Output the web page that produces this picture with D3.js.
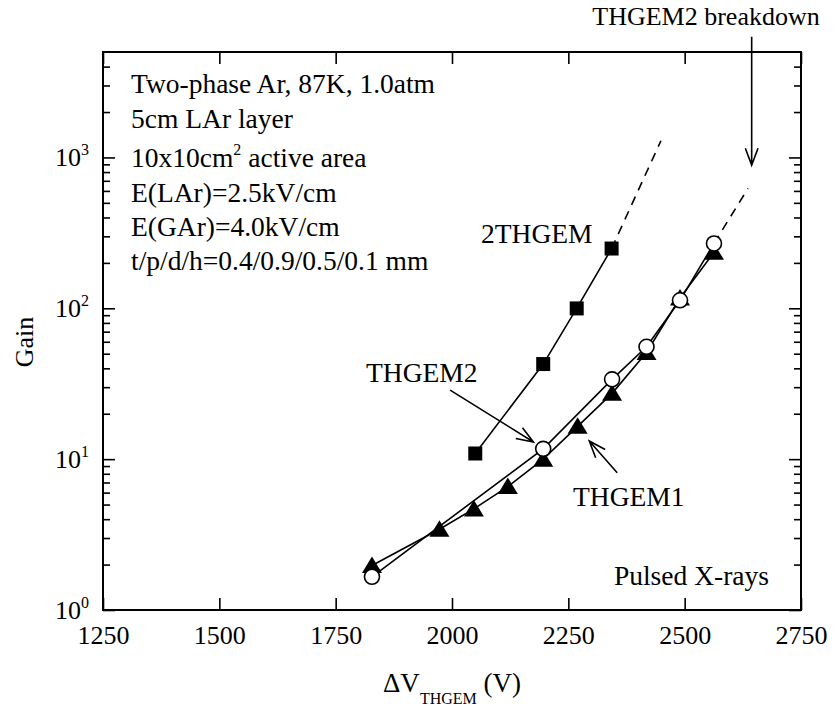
<!DOCTYPE html>
<html>
<head>
<meta charset="utf-8">
<script src="https://cdn.jsdelivr.net/npm/d3@7"></script>
<style>
  body { margin: 0; background: white; }
  svg { font-family: 'Liberation Serif', 'Times New Roman', serif; }
</style>
</head>
<body>
<svg id="chart" width="835" height="708"></svg>
<script>
// Valores
const xTicks = [1250, 1500, 1750, 2000, 2250, 2500, 2750]
const yMajor = [1, 10, 100, 1000]
const yMinor = [2, 3, 4, 5, 6, 7, 8, 9, 20, 30, 40, 50, 60, 70, 80, 90,
                200, 300, 400, 500, 600, 700, 800, 900, 2000, 3000, 4000]

const v2thgem = [2050, 2196, 2268, 2343]
const gain2thgem = [10.9, 42.7, 99.8, 249]

const vThgem2 = [1828, 2196, 2344, 2418, 2490, 2563]
const gainThgem2 = [1.66, 11.7, 33.8, 55.6, 113, 269]

const vThgem1 = [1828, 1973, 2047, 2120, 2196, 2270, 2344, 2418, 2490, 2563]
const gainThgem1 = [1.97, 3.43, 4.68, 6.58, 10.0, 16.5, 27.3, 51, 117, 235]

// extrapolaciones a trazos
const dash2thgem = [[2343, 249], [2449, 1290]]
const dashThgem2 = [[2563, 269], [2636, 623]]

const infoLines = [
  'Two-phase Ar, 87K, 1.0atm',
  '5cm LAr layer',
  '10x10cm^2 active area',
  'E(LAr)=2.5kV/cm',
  'E(GAr)=4.0kV/cm',
  't/p/d/h=0.4/0.9/0.5/0.1 mm'
]
const infoY = [93, 128, 167, 202, 236, 270] // lineas base del recuadro de texto

const svg = d3.select('#chart')
const width = +svg.attr('width')
const height = +svg.attr('height')
const margin = { top: 52, right: 34, bottom: 98, left: 103 }
const innerWidth = width - margin.left - margin.right
const innerHeight = height - margin.top - margin.bottom

const x = d3.scaleLinear().domain([1250, 2750]).range([0, innerWidth])
const y = d3.scaleLog().domain([1, 5000]).range([innerHeight, 0])

const g = svg.append('g')
  .attr('transform', `translate(${margin.left}, ${margin.top})`)

// Ejes (ticks hacia adentro)
const styleAxis = sel => {
  sel.attr('font-size', 26).attr('font-family', 'Liberation Serif')
  sel.select('.domain').remove()
  sel.selectAll('.tick line').attr('stroke', '#000').attr('stroke-width', 1.6)
}

g.append('g')
  .attr('transform', `translate(0, ${innerHeight})`)
  .call(d3.axisBottom(x).tickValues(xTicks).tickSize(-12).tickPadding(16).tickFormat(d3.format('d')))
  .call(styleAxis)
  .selectAll('text')
    .attr('fill', '#000')

g.append('g')
  .call(d3.axisTop(x).tickValues(xTicks).tickSize(-12).tickFormat(''))
  .call(styleAxis)

const yLeft = g.append('g')
  .call(d3.axisLeft(y).tickValues(yMajor).tickSize(-12).tickPadding(14).tickFormat(''))
  .call(styleAxis)

yLeft.selectAll('.tick text').each(function (d) {
  const t = d3.select(this)
    .attr('fill', '#000')
    .attr('dy', '0.32em')
  t.append('tspan').text('10')
  t.append('tspan').attr('font-size', 16).attr('dy', -11).text(Math.round(Math.log10(d)))
})

g.append('g')
  .call(d3.axisLeft(y).tickValues(yMinor).tickSize(-7).tickFormat(''))
  .call(styleAxis)

g.append('g')
  .attr('transform', `translate(${innerWidth}, 0)`)
  .call(d3.axisRight(y).tickValues(yMajor).tickSize(-12).tickFormat(''))
  .call(styleAxis)

g.append('g')
  .attr('transform', `translate(${innerWidth}, 0)`)
  .call(d3.axisRight(y).tickValues(yMinor).tickSize(-7).tickFormat(''))
  .call(styleAxis)

// Marco
g.append('rect')
  .attr('width', innerWidth)
  .attr('height', innerHeight)
  .attr('fill', 'none')
  .attr('stroke', '#000')
  .attr('stroke-width', 2)

// Titulos de ejes
svg.append('text')
  .attr('transform', `translate(33, 342) rotate(-90)`)
  .attr('text-anchor', 'middle')
  .attr('font-size', 26)
  .text('Gain')

const xTitle = svg.append('text')
  .attr('x', margin.left + innerWidth / 2)
  .attr('y', 692)
  .attr('text-anchor', 'middle')
  .attr('font-size', 27)
xTitle.append('tspan').text('\u0394V')
xTitle.append('tspan').attr('font-size', 16).attr('dy', 12).text('THGEM')
xTitle.append('tspan').attr('dy', -12).text(' (V)')

// Curvas
const line = d3.line().x(d => x(d[0])).y(d => y(d[1]))
const zip = (a, b) => a.map((v, i) => [v, b[i]])

const d2thgem = zip(v2thgem, gain2thgem)
const dThgem2 = zip(vThgem2, gainThgem2)
const dThgem1 = zip(vThgem1, gainThgem1)

const curves = g.append('g').attr('fill', 'none').attr('stroke', '#000').attr('stroke-width', 1.6)
curves.append('path').attr('d', line(d2thgem))
curves.append('path').attr('d', line(dThgem1))
curves.append('path').attr('d', line(dThgem2))
curves.append('path').attr('d', line(dash2thgem)).attr('stroke-dasharray', '9,7')
curves.append('path').attr('d', line(dashThgem2)).attr('stroke-dasharray', '9,7')

// Marcadores
g.selectAll('.tri').data(dThgem1)
  .enter().append('path')
    .attr('class', 'tri')
    .attr('transform', d => `translate(${x(d[0])}, ${y(d[1])})`)
    .attr('d', 'M0,-9L10,7.5L-10,7.5Z')
    .attr('fill', '#000')

g.selectAll('.circ').data(dThgem2)
  .enter().append('circle')
    .attr('class', 'circ')
    .attr('cx', d => x(d[0]))
    .attr('cy', d => y(d[1]))
    .attr('r', 7.5)
    .attr('fill', '#fff')
    .attr('stroke', '#000')
    .attr('stroke-width', 1.6)

g.selectAll('.sq').data(d2thgem)
  .enter().append('rect')
    .attr('class', 'sq')
    .attr('x', d => x(d[0]) - 7)
    .attr('y', d => y(d[1]) - 7)
    .attr('width', 14)
    .attr('height', 14)
    .attr('fill', '#000')

// Flechas (puntas abiertas)
const arrow = (from, to) => {
  const x1 = x(from[0]), y1 = y(from[1]), x2 = x(to[0]), y2 = y(to[1])
  const ang = Math.atan2(y2 - y1, x2 - x1)
  const len = 18, spread = 0.36
  const p1 = [x2 - len * Math.cos(ang - spread), y2 - len * Math.sin(ang - spread)]
  const p2 = [x2 - len * Math.cos(ang + spread), y2 - len * Math.sin(ang + spread)]
  g.append('path')
    .attr('d', `M${x1},${y1}L${x2},${y2}M${p1[0]},${p1[1]}L${x2},${y2}L${p2[0]},${p2[1]}`)
    .attr('fill', 'none')
    .attr('stroke', '#000')
    .attr('stroke-width', 1.6)
}
arrow([1996, 28.7], [2175, 13.0])
arrow([2355, 8.13], [2295, 13.2])
arrow([2644, 6300], [2644, 889])

// Textos
const label = (txt, px, py, size, anchor) =>
  svg.append('text')
    .attr('x', px).attr('y', py)
    .attr('font-size', size)
    .attr('text-anchor', anchor || 'start')
    .text(txt)

label('2THGEM', 481, 243, 27.5)
label('THGEM2', 366, 382, 27.5)
label('THGEM1', 573, 506, 27.5)
label('Pulsed X-rays', 769, 585, 27.5, 'end')
label('THGEM2 breakdown', 706, 25, 26, 'middle')

const info = svg.append('g')
infoLines.forEach((s, i) => {
  const t = info.append('text')
    .attr('x', 131)
    .attr('y', infoY[i])
    .attr('font-size', 27.5)
  const parts = s.split('^')
  if (parts.length === 1) {
    t.text(s)
  } else {
    t.append('tspan').text(parts[0])
    t.append('tspan').attr('font-size', 16).attr('dy', -12).text(parts[1][0])
    t.append('tspan').attr('dy', 12).text(parts[1].slice(1))
  }
})
</script>
</body>
</html>
